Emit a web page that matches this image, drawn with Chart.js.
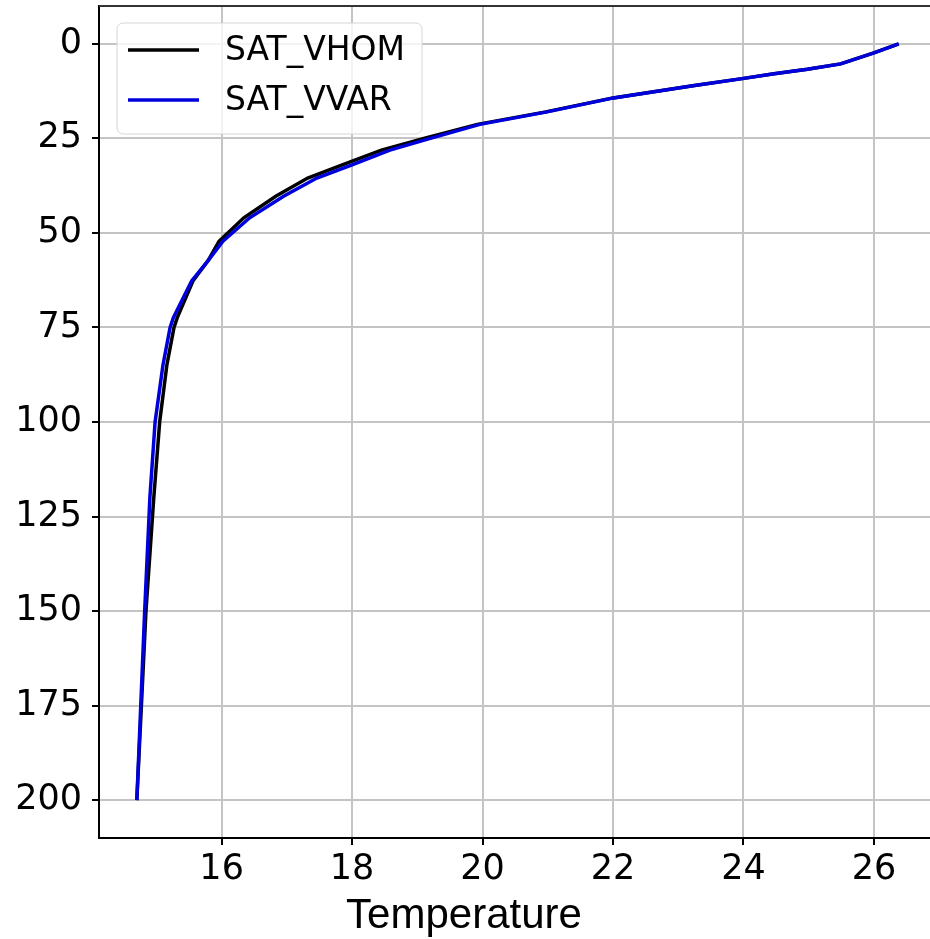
<!DOCTYPE html>
<html>
<head>
<meta charset="utf-8">
<script src="https://cdn.jsdelivr.net/npm/chart.js@4.4.1/dist/chart.umd.min.js"></script>
<style>
  html, body { margin: 0; padding: 0; background: #fff; }
  #wrap { width: 930px; height: 939px; position: relative; }
</style>
</head>
<body>
<div id="wrap"><canvas id="chart"></canvas></div>
<script>
// depth levels (m) and temperature
const depths    = [0, 2.4, 5.3, 6.7, 7.9, 9.2, 11, 14.3, 18, 21.3, 25, 28.1, 32, 35.5, 40.3, 46, 52.2, 57.4, 62.7, 72.4, 75, 85, 100, 120, 150, 200];
const tempVhom  = [26.38, 26.0, 25.49, 24.98, 24.47, 23.98, 23.25, 22.0, 20.97, 19.92, 19.1, 18.45, 17.85, 17.32, 16.83, 16.34, 15.96, 15.79, 15.56, 15.32, 15.27, 15.16, 15.05, 14.96, 14.84, 14.7];
const tempVvar  = [26.38, 26.0, 25.49, 24.98, 24.47, 23.98, 23.25, 22.01, 20.99, 19.96, 19.2, 18.58, 18.0, 17.46, 16.95, 16.43, 16.02, 15.79, 15.54, 15.26, 15.21, 15.1, 14.98, 14.9, 14.82, 14.7];
const seriesNames = ['SAT_VHOM', 'SAT_VVAR'];
const seriesColors = ['#000000', '#0000dd'];

const toPoints = temps => temps.map((t, i) => ({ x: t, y: depths[i] }));

// legend drawn inside the plot like matplotlib
const innerLegend = {
  id: 'innerLegend',
  afterDraw(chart) {
    const ctx = chart.ctx;
    const a = chart.chartArea;
    ctx.save();
    // top spine
    ctx.strokeStyle = '#333';
    ctx.lineWidth = 2;
    ctx.beginPath();
    ctx.moveTo(a.left, a.top);
    ctx.lineTo(a.right, a.top);
    ctx.stroke();

    const bx = 117, by = 23, bw = 305, bh = 111;
    ctx.beginPath();
    ctx.roundRect(bx, by, bw, bh, 6);
    ctx.fillStyle = 'rgba(255,255,255,0.8)';
    ctx.fill();
    ctx.strokeStyle = '#d6d6d6';
    ctx.lineWidth = 1;
    ctx.stroke();

    ctx.font = '33px "DejaVu Sans"';
    ctx.textBaseline = 'middle';
    chart.data.datasets.forEach((ds, i) => {
      const y = 50 + i * 50;
      ctx.strokeStyle = ds.borderColor;
      ctx.lineWidth = 3.5;
      ctx.beginPath();
      ctx.moveTo(128, y);
      ctx.lineTo(199, y);
      ctx.stroke();
      ctx.fillStyle = '#000';
      ctx.fillText(ds.label, 225, y + 1);
    });

    // x axis title
    ctx.font = '42px "Liberation Sans", Arial';
    ctx.textAlign = 'center';
    ctx.textBaseline = 'alphabetic';
    ctx.fillStyle = '#000';
    ctx.fillText('Temperature', 464, 928);
    ctx.restore();
  }
};

const ctx = document.getElementById('chart').getContext('2d');
new Chart(ctx, {
  type: 'line',
  data: {
    datasets: [
      {
        label: seriesNames[0],
        data: toPoints(tempVhom),
        borderColor: seriesColors[0],
        borderWidth: 3.5,
        pointRadius: 0,
        tension: 0,
        fill: false,
        order: 2
      },
      {
        label: seriesNames[1],
        data: toPoints(tempVvar),
        borderColor: seriesColors[1],
        borderWidth: 3.5,
        pointRadius: 0,
        tension: 0,
        fill: false,
        order: 1
      }
    ]
  },
  options: {
    responsive: true,
    maintainAspectRatio: false,
    animation: false,
    layout: { padding: { top: 6, right: 0, left: 0, bottom: 0 } },
    scales: {
      x: {
        type: 'linear',
        min: 14.12,
        max: 26.86,
        afterFit: s => { s.height = 101; s.paddingLeft = 0; s.paddingRight = 0; },
        ticks: {
          stepSize: 2,
          includeBounds: false,
          color: '#000',
          padding: 4,
          maxRotation: 0,
          font: { family: 'DejaVu Sans', size: 35 }
        },
        grid: { color: '#c4c4c4', lineWidth: 2, tickColor: '#000', tickLength: 7, drawTicks: true },
        border: { color: '#000', width: 2 }
      },
      y: {
        type: 'linear',
        reverse: true,
        min: -10,
        max: 210,
        afterFit: s => { s.width = 99; s.paddingTop = 0; s.paddingBottom = 0; },
        ticks: {
          stepSize: 25,
          includeBounds: false,
          color: '#000',
          padding: 10,
          font: { family: 'DejaVu Sans', size: 35 }
        },
        grid: { color: '#c4c4c4', lineWidth: 2, tickColor: '#000', tickLength: 7, drawTicks: true },
        border: { color: '#000', width: 2 }
      }
    },
    plugins: {
      legend: { display: false },
      tooltip: { enabled: false }
    }
  },
  plugins: [innerLegend]
});
</script>
</body>
</html>
